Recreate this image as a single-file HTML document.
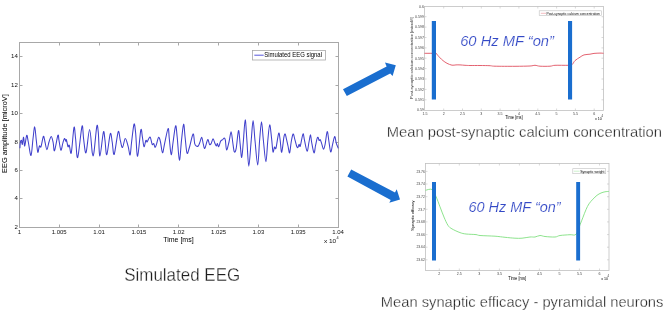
<!DOCTYPE html>
<html><head><meta charset="utf-8"><style>
html,body{margin:0;padding:0;background:#fff;overflow:hidden}
svg{display:block;filter:blur(0.3px)}
text{font-family:"Liberation Sans", sans-serif}
</style></head><body>
<svg width="669" height="315" viewBox="0 0 669 315">
<rect width="669" height="315" fill="#fff"/>
<rect x="19.5" y="42.5" width="319.0" height="185.0" fill="none" stroke="#a8a8a8" stroke-width="1"/>
<text x="17.8" y="228.8" font-size="6.1" text-anchor="end" fill="#111">2</text>
<line x1="19.5" y1="198.5" x2="22.5" y2="198.5" stroke="#a8a8a8"/>
<line x1="338.5" y1="198.5" x2="335.5" y2="198.5" stroke="#a8a8a8"/>
<text x="17.8" y="200.4" font-size="6.1" text-anchor="end" fill="#111">4</text>
<line x1="19.5" y1="170.5" x2="22.5" y2="170.5" stroke="#a8a8a8"/>
<line x1="338.5" y1="170.5" x2="335.5" y2="170.5" stroke="#a8a8a8"/>
<text x="17.8" y="172.0" font-size="6.1" text-anchor="end" fill="#111">6</text>
<line x1="19.5" y1="142.5" x2="22.5" y2="142.5" stroke="#a8a8a8"/>
<line x1="338.5" y1="142.5" x2="335.5" y2="142.5" stroke="#a8a8a8"/>
<text x="17.8" y="143.6" font-size="6.1" text-anchor="end" fill="#111">8</text>
<line x1="19.5" y1="113.5" x2="22.5" y2="113.5" stroke="#a8a8a8"/>
<line x1="338.5" y1="113.5" x2="335.5" y2="113.5" stroke="#a8a8a8"/>
<text x="17.8" y="115.2" font-size="6.1" text-anchor="end" fill="#111">10</text>
<line x1="19.5" y1="85.5" x2="22.5" y2="85.5" stroke="#a8a8a8"/>
<line x1="338.5" y1="85.5" x2="335.5" y2="85.5" stroke="#a8a8a8"/>
<text x="17.8" y="86.8" font-size="6.1" text-anchor="end" fill="#111">12</text>
<line x1="19.5" y1="56.5" x2="22.5" y2="56.5" stroke="#a8a8a8"/>
<line x1="338.5" y1="56.5" x2="335.5" y2="56.5" stroke="#a8a8a8"/>
<text x="17.8" y="58.4" font-size="6.1" text-anchor="end" fill="#111">14</text>
<text x="19.3" y="234.1" font-size="6" text-anchor="middle" fill="#111">1</text>
<line x1="59.5" y1="227.5" x2="59.5" y2="224.5" stroke="#a8a8a8"/>
<line x1="59.5" y1="42.5" x2="59.5" y2="45.5" stroke="#a8a8a8"/>
<text x="59.2" y="234.1" font-size="6" text-anchor="middle" fill="#111">1.005</text>
<line x1="99.5" y1="227.5" x2="99.5" y2="224.5" stroke="#a8a8a8"/>
<line x1="99.5" y1="42.5" x2="99.5" y2="45.5" stroke="#a8a8a8"/>
<text x="99.0" y="234.1" font-size="6" text-anchor="middle" fill="#111">1.01</text>
<line x1="138.5" y1="227.5" x2="138.5" y2="224.5" stroke="#a8a8a8"/>
<line x1="138.5" y1="42.5" x2="138.5" y2="45.5" stroke="#a8a8a8"/>
<text x="138.9" y="234.1" font-size="6" text-anchor="middle" fill="#111">1.015</text>
<line x1="178.5" y1="227.5" x2="178.5" y2="224.5" stroke="#a8a8a8"/>
<line x1="178.5" y1="42.5" x2="178.5" y2="45.5" stroke="#a8a8a8"/>
<text x="178.7" y="234.1" font-size="6" text-anchor="middle" fill="#111">1.02</text>
<line x1="218.5" y1="227.5" x2="218.5" y2="224.5" stroke="#a8a8a8"/>
<line x1="218.5" y1="42.5" x2="218.5" y2="45.5" stroke="#a8a8a8"/>
<text x="218.6" y="234.1" font-size="6" text-anchor="middle" fill="#111">1.025</text>
<line x1="258.5" y1="227.5" x2="258.5" y2="224.5" stroke="#a8a8a8"/>
<line x1="258.5" y1="42.5" x2="258.5" y2="45.5" stroke="#a8a8a8"/>
<text x="258.4" y="234.1" font-size="6" text-anchor="middle" fill="#111">1.03</text>
<line x1="298.5" y1="227.5" x2="298.5" y2="224.5" stroke="#a8a8a8"/>
<line x1="298.5" y1="42.5" x2="298.5" y2="45.5" stroke="#a8a8a8"/>
<text x="298.2" y="234.1" font-size="6" text-anchor="middle" fill="#111">1.035</text>
<text x="338.1" y="234.1" font-size="6" text-anchor="middle" fill="#111">1.04</text>
<text x="163.2" y="242.2" font-size="7" fill="#000" textLength="30.4" lengthAdjust="spacingAndGlyphs">Time [ms]</text>
<text x="323.9" y="242.9" font-size="5.4" fill="#111" textLength="12.3" lengthAdjust="spacingAndGlyphs">x 10</text><text x="336.5" y="238.8" font-size="3.8" fill="#111">4</text>
<text transform="translate(7.4,133.6) rotate(-90)" font-size="6.6" text-anchor="middle" fill="#000" textLength="78.6" lengthAdjust="spacingAndGlyphs">EEG amplitude [microV]</text>
<rect x="252.5" y="50.5" width="73" height="9.5" fill="#fff" stroke="#a8a8a8" stroke-width="0.8"/>
<line x1="254.3" y1="55.2" x2="263.7" y2="55.2" stroke="#4545d8" stroke-width="0.9"/>
<text x="264.2" y="57.2" font-size="6.3" fill="#000" textLength="57.8" lengthAdjust="spacingAndGlyphs">Simulated EEG signal</text>
<path d="M19.90,148.30 C19.98,147.25 20.13,143.32 20.40,142.00 C20.67,140.68 21.18,140.00 21.50,140.40 C21.82,140.80 21.95,144.93 22.30,144.40 C22.65,143.87 23.20,136.93 23.60,137.20 C24.00,137.47 24.18,146.32 24.70,146.00 C25.22,145.68 26.10,135.97 26.70,135.30 C27.30,134.63 27.58,138.63 28.30,142.00 C29.02,145.37 30.22,156.03 31.00,155.50 C31.78,154.97 32.38,143.57 33.00,138.80 C33.62,134.03 34.15,126.63 34.70,126.90 C35.25,127.17 35.78,136.17 36.30,140.40 C36.82,144.63 37.28,151.37 37.80,152.30 C38.32,153.23 38.87,146.93 39.40,146.00 C39.93,145.07 40.33,148.30 41.00,146.70 C41.67,145.10 42.73,137.18 43.40,136.40 C44.07,135.62 44.42,139.80 45.00,142.00 C45.58,144.20 46.23,149.60 46.90,149.60 C47.57,149.60 48.27,144.20 49.00,142.00 C49.73,139.80 50.60,136.27 51.30,136.40 C52.00,136.53 52.67,140.42 53.20,142.80 C53.73,145.18 53.72,151.95 54.50,150.70 C55.28,149.45 57.15,137.02 57.90,135.30 C58.65,133.58 58.50,137.92 59.00,140.40 C59.50,142.88 60.25,149.80 60.90,150.20 C61.55,150.60 62.30,144.75 62.90,142.80 C63.50,140.85 64.02,138.77 64.50,138.50 C64.98,138.23 65.48,141.02 65.80,141.20 C66.12,141.38 66.03,138.68 66.40,139.60 C66.77,140.52 67.52,145.77 68.00,146.70 C68.48,147.63 68.75,144.18 69.30,145.20 C69.85,146.22 70.52,155.77 71.30,152.80 C72.08,149.83 73.28,129.73 74.00,127.40 C74.72,125.07 74.98,133.78 75.60,138.80 C76.22,143.82 76.63,159.57 77.70,157.50 C78.77,155.43 81.02,129.52 82.00,126.40 C82.98,123.28 82.93,134.40 83.60,138.80 C84.27,143.20 85.00,154.33 86.00,152.80 C87.00,151.27 88.55,129.57 89.60,129.60 C90.65,129.63 91.58,149.13 92.30,153.00 C93.02,156.87 93.15,157.23 93.90,152.80 C94.65,148.37 96.07,129.78 96.80,126.40 C97.53,123.02 97.78,127.57 98.30,132.50 C98.82,137.43 99.05,156.07 99.90,156.00 C100.75,155.93 102.55,134.70 103.40,132.10 C104.25,129.50 104.43,136.63 105.00,140.40 C105.57,144.17 105.92,155.82 106.80,154.70 C107.68,153.58 109.40,135.82 110.30,133.70 C111.20,131.58 111.55,138.55 112.20,142.00 C112.85,145.45 113.20,156.12 114.20,154.40 C115.20,152.68 117.18,134.03 118.20,131.70 C119.22,129.37 119.58,137.77 120.30,140.40 C121.02,143.03 121.67,147.82 122.50,147.50 C123.33,147.18 124.35,138.63 125.30,138.50 C126.25,138.37 127.40,143.95 128.20,146.70 C129.00,149.45 129.53,155.78 130.10,155.00 C130.67,154.22 130.95,147.13 131.60,142.00 C132.25,136.87 133.33,125.78 134.00,124.20 C134.67,122.62 135.00,127.15 135.60,132.50 C136.20,137.85 136.73,156.70 137.60,156.30 C138.47,155.90 140.00,133.28 140.80,130.10 C141.60,126.92 141.87,134.43 142.40,137.20 C142.93,139.97 143.42,146.17 144.00,146.70 C144.58,147.23 145.38,141.18 145.90,140.40 C146.42,139.62 146.63,142.27 147.10,142.00 C147.57,141.73 148.17,139.60 148.70,138.80 C149.23,138.00 149.72,136.27 150.30,137.20 C150.88,138.13 151.62,143.33 152.20,144.40 C152.78,145.47 153.32,143.08 153.80,143.60 C154.28,144.12 154.62,147.50 155.10,147.50 C155.58,147.50 156.12,145.32 156.70,143.60 C157.28,141.88 157.97,137.47 158.60,137.20 C159.23,136.93 159.85,139.40 160.50,142.00 C161.15,144.60 161.82,152.53 162.50,152.80 C163.18,153.07 163.67,147.65 164.60,143.60 C165.53,139.55 167.32,129.30 168.10,128.50 C168.88,127.70 168.78,134.43 169.30,138.80 C169.82,143.17 170.57,154.17 171.20,154.70 C171.83,155.23 172.37,146.82 173.10,142.00 C173.83,137.18 174.92,126.60 175.60,125.80 C176.28,125.00 176.57,131.47 177.20,137.20 C177.83,142.93 178.68,159.67 179.40,160.20 C180.12,160.73 180.80,146.40 181.50,140.40 C182.20,134.40 183.00,124.73 183.60,124.20 C184.20,123.67 184.53,132.38 185.10,137.20 C185.67,142.02 186.28,151.38 187.00,153.10 C187.72,154.82 188.38,150.68 189.40,147.50 C190.42,144.32 192.22,134.65 193.10,134.00 C193.98,133.35 194.17,141.60 194.70,143.60 C195.23,145.60 195.72,145.60 196.30,146.00 C196.88,146.40 197.63,146.53 198.20,146.00 C198.77,145.47 199.12,144.27 199.70,142.80 C200.28,141.33 201.12,137.07 201.70,137.20 C202.28,137.33 202.68,141.75 203.20,143.60 C203.72,145.45 204.05,148.97 204.80,148.30 C205.55,147.63 206.92,140.25 207.70,139.60 C208.48,138.95 208.93,143.73 209.50,144.40 C210.07,145.07 210.50,144.53 211.10,143.60 C211.70,142.67 212.50,138.93 213.10,138.80 C213.70,138.67 214.17,141.60 214.70,142.80 C215.23,144.00 215.85,145.87 216.30,146.00 C216.75,146.13 217.00,143.48 217.40,143.60 C217.80,143.72 218.17,147.10 218.70,146.70 C219.23,146.30 219.93,142.38 220.60,141.20 C221.27,140.02 222.08,140.13 222.70,139.60 C223.32,139.07 223.85,137.87 224.30,138.00 C224.75,138.13 225.02,138.42 225.40,140.40 C225.78,142.38 226.00,149.63 226.60,149.90 C227.20,150.17 228.25,145.03 229.00,142.00 C229.75,138.97 230.48,131.70 231.10,131.70 C231.72,131.70 232.17,138.65 232.70,142.00 C233.23,145.35 233.72,150.75 234.30,151.80 C234.88,152.85 235.50,151.83 236.20,148.30 C236.90,144.77 237.85,131.38 238.50,130.60 C239.15,129.82 239.57,139.12 240.10,143.60 C240.63,148.08 241.17,157.77 241.70,157.50 C242.23,157.23 242.72,148.27 243.30,142.00 C243.88,135.73 244.60,120.15 245.20,119.90 C245.80,119.65 246.30,132.78 246.90,140.50 C247.50,148.22 248.08,166.20 248.80,166.20 C249.52,166.20 250.48,148.12 251.20,140.50 C251.92,132.88 252.47,120.50 253.10,120.50 C253.73,120.50 254.23,133.10 255.00,140.50 C255.77,147.90 256.93,164.90 257.70,164.90 C258.47,164.90 258.97,147.68 259.60,140.50 C260.23,133.32 260.87,121.80 261.50,121.80 C262.13,121.80 262.67,133.83 263.40,140.50 C264.13,147.17 265.17,161.80 265.90,161.80 C266.63,161.80 267.17,146.65 267.80,140.50 C268.43,134.35 269.07,125.22 269.70,124.90 C270.33,124.58 271.05,134.10 271.60,138.60 C272.15,143.10 272.52,150.48 273.00,151.90 C273.48,153.32 274.00,147.73 274.50,147.10 C275.00,146.47 275.30,150.42 276.00,148.10 C276.70,145.78 278.00,134.47 278.70,133.20 C279.40,131.93 279.70,137.32 280.20,140.50 C280.70,143.68 281.08,152.85 281.70,152.30 C282.32,151.75 283.32,140.25 283.90,137.20 C284.48,134.15 284.78,133.73 285.20,134.00 C285.62,134.27 285.93,136.80 286.40,138.80 C286.87,140.80 287.47,143.67 288.00,146.00 C288.53,148.33 289.07,153.47 289.60,152.80 C290.13,152.13 290.62,145.13 291.20,142.00 C291.78,138.87 292.52,134.53 293.10,134.00 C293.68,133.47 294.12,136.80 294.70,138.80 C295.28,140.80 296.07,144.55 296.60,146.00 C297.13,147.45 297.48,147.77 297.90,147.50 C298.32,147.23 298.70,144.65 299.10,144.40 C299.50,144.15 299.65,147.73 300.30,146.00 C300.95,144.27 302.30,134.93 303.00,134.00 C303.70,133.07 303.82,137.53 304.50,140.40 C305.18,143.27 306.35,150.93 307.10,151.20 C307.85,151.47 308.43,144.73 309.00,142.00 C309.57,139.27 310.07,134.80 310.50,134.80 C310.93,134.80 311.02,138.98 311.60,142.00 C312.18,145.02 313.33,152.37 314.00,152.90 C314.67,153.43 315.00,147.80 315.60,145.20 C316.20,142.60 317.00,138.08 317.60,137.30 C318.20,136.52 318.75,140.10 319.20,140.50 C319.65,140.90 319.85,139.05 320.30,139.70 C320.75,140.35 321.37,142.82 321.90,144.40 C322.43,145.98 322.97,149.20 323.50,149.20 C324.03,149.20 324.48,147.32 325.10,144.40 C325.72,141.48 326.58,132.35 327.20,131.70 C327.82,131.05 328.22,137.13 328.80,140.50 C329.38,143.87 330.07,151.25 330.70,151.90 C331.33,152.55 331.93,146.97 332.60,144.40 C333.27,141.83 334.10,136.77 334.70,136.50 C335.30,136.23 335.60,140.82 336.20,142.80 C336.80,144.78 337.95,147.47 338.30,148.40" fill="none" stroke="#4040cc" stroke-width="1.05" stroke-linejoin="round"/>
<rect x="424.5" y="6.5" width="179.0" height="104.0" fill="none" stroke="#c0c0c0" stroke-width="0.8"/>
<text x="423.9" y="7.5" font-size="3.6" text-anchor="end" fill="#444">0.6</text>
<line x1="424.5" y1="16.7" x2="426.5" y2="16.7" stroke="#c0c0c0" stroke-width="0.6"/>
<line x1="603.5" y1="16.7" x2="601.5" y2="16.7" stroke="#c0c0c0" stroke-width="0.6"/>
<text x="423.9" y="17.9" font-size="3.6" text-anchor="end" fill="#444">0.599</text>
<line x1="424.5" y1="27.1" x2="426.5" y2="27.1" stroke="#c0c0c0" stroke-width="0.6"/>
<line x1="603.5" y1="27.1" x2="601.5" y2="27.1" stroke="#c0c0c0" stroke-width="0.6"/>
<text x="423.9" y="28.3" font-size="3.6" text-anchor="end" fill="#444">0.598</text>
<line x1="424.5" y1="37.5" x2="426.5" y2="37.5" stroke="#c0c0c0" stroke-width="0.6"/>
<line x1="603.5" y1="37.5" x2="601.5" y2="37.5" stroke="#c0c0c0" stroke-width="0.6"/>
<text x="423.9" y="38.7" font-size="3.6" text-anchor="end" fill="#444">0.597</text>
<line x1="424.5" y1="47.9" x2="426.5" y2="47.9" stroke="#c0c0c0" stroke-width="0.6"/>
<line x1="603.5" y1="47.9" x2="601.5" y2="47.9" stroke="#c0c0c0" stroke-width="0.6"/>
<text x="423.9" y="49.1" font-size="3.6" text-anchor="end" fill="#444">0.596</text>
<line x1="424.5" y1="58.2" x2="426.5" y2="58.2" stroke="#c0c0c0" stroke-width="0.6"/>
<line x1="603.5" y1="58.2" x2="601.5" y2="58.2" stroke="#c0c0c0" stroke-width="0.6"/>
<text x="423.9" y="59.5" font-size="3.6" text-anchor="end" fill="#444">0.595</text>
<line x1="424.5" y1="68.6" x2="426.5" y2="68.6" stroke="#c0c0c0" stroke-width="0.6"/>
<line x1="603.5" y1="68.6" x2="601.5" y2="68.6" stroke="#c0c0c0" stroke-width="0.6"/>
<text x="423.9" y="69.8" font-size="3.6" text-anchor="end" fill="#444">0.594</text>
<line x1="424.5" y1="79.0" x2="426.5" y2="79.0" stroke="#c0c0c0" stroke-width="0.6"/>
<line x1="603.5" y1="79.0" x2="601.5" y2="79.0" stroke="#c0c0c0" stroke-width="0.6"/>
<text x="423.9" y="80.2" font-size="3.6" text-anchor="end" fill="#444">0.593</text>
<line x1="424.5" y1="89.4" x2="426.5" y2="89.4" stroke="#c0c0c0" stroke-width="0.6"/>
<line x1="603.5" y1="89.4" x2="601.5" y2="89.4" stroke="#c0c0c0" stroke-width="0.6"/>
<text x="423.9" y="90.6" font-size="3.6" text-anchor="end" fill="#444">0.592</text>
<line x1="424.5" y1="99.8" x2="426.5" y2="99.8" stroke="#c0c0c0" stroke-width="0.6"/>
<line x1="603.5" y1="99.8" x2="601.5" y2="99.8" stroke="#c0c0c0" stroke-width="0.6"/>
<text x="423.9" y="101.0" font-size="3.6" text-anchor="end" fill="#444">0.591</text>
<text x="423.9" y="111.4" font-size="3.6" text-anchor="end" fill="#444">0.59</text>
<text x="424.9" y="114.6" font-size="3.6" text-anchor="middle" fill="#444">1.5</text>
<line x1="443.7" y1="110.5" x2="443.7" y2="108.5" stroke="#c0c0c0" stroke-width="0.6"/>
<line x1="443.7" y1="6.5" x2="443.7" y2="8.5" stroke="#c0c0c0" stroke-width="0.6"/>
<text x="443.7" y="114.6" font-size="3.6" text-anchor="middle" fill="#444">2</text>
<line x1="462.5" y1="110.5" x2="462.5" y2="108.5" stroke="#c0c0c0" stroke-width="0.6"/>
<line x1="462.5" y1="6.5" x2="462.5" y2="8.5" stroke="#c0c0c0" stroke-width="0.6"/>
<text x="462.5" y="114.6" font-size="3.6" text-anchor="middle" fill="#444">2.5</text>
<line x1="481.3" y1="110.5" x2="481.3" y2="108.5" stroke="#c0c0c0" stroke-width="0.6"/>
<line x1="481.3" y1="6.5" x2="481.3" y2="8.5" stroke="#c0c0c0" stroke-width="0.6"/>
<text x="481.3" y="114.6" font-size="3.6" text-anchor="middle" fill="#444">3</text>
<line x1="500.1" y1="110.5" x2="500.1" y2="108.5" stroke="#c0c0c0" stroke-width="0.6"/>
<line x1="500.1" y1="6.5" x2="500.1" y2="8.5" stroke="#c0c0c0" stroke-width="0.6"/>
<text x="500.1" y="114.6" font-size="3.6" text-anchor="middle" fill="#444">3.5</text>
<line x1="518.9" y1="110.5" x2="518.9" y2="108.5" stroke="#c0c0c0" stroke-width="0.6"/>
<line x1="518.9" y1="6.5" x2="518.9" y2="8.5" stroke="#c0c0c0" stroke-width="0.6"/>
<text x="518.9" y="114.6" font-size="3.6" text-anchor="middle" fill="#444">4</text>
<line x1="537.8" y1="110.5" x2="537.8" y2="108.5" stroke="#c0c0c0" stroke-width="0.6"/>
<line x1="537.8" y1="6.5" x2="537.8" y2="8.5" stroke="#c0c0c0" stroke-width="0.6"/>
<text x="537.8" y="114.6" font-size="3.6" text-anchor="middle" fill="#444">4.5</text>
<line x1="556.6" y1="110.5" x2="556.6" y2="108.5" stroke="#c0c0c0" stroke-width="0.6"/>
<line x1="556.6" y1="6.5" x2="556.6" y2="8.5" stroke="#c0c0c0" stroke-width="0.6"/>
<text x="556.6" y="114.6" font-size="3.6" text-anchor="middle" fill="#444">5</text>
<line x1="575.4" y1="110.5" x2="575.4" y2="108.5" stroke="#c0c0c0" stroke-width="0.6"/>
<line x1="575.4" y1="6.5" x2="575.4" y2="8.5" stroke="#c0c0c0" stroke-width="0.6"/>
<text x="575.4" y="114.6" font-size="3.6" text-anchor="middle" fill="#444">5.5</text>
<line x1="594.2" y1="110.5" x2="594.2" y2="108.5" stroke="#c0c0c0" stroke-width="0.6"/>
<line x1="594.2" y1="6.5" x2="594.2" y2="8.5" stroke="#c0c0c0" stroke-width="0.6"/>
<text x="594.2" y="114.6" font-size="3.6" text-anchor="middle" fill="#444">6</text>
<text x="505.3" y="119.3" font-size="4.6" fill="#000" textLength="17.4" lengthAdjust="spacingAndGlyphs">Time [ms]</text>
<text x="595" y="119.8" font-size="3.6" fill="#000">x 10</text><text x="601.4" y="117" font-size="2.6" fill="#000">4</text>
<text transform="translate(413.3,58.1) rotate(-90)" font-size="3.8" text-anchor="middle" fill="#333" textLength="82" lengthAdjust="spacingAndGlyphs">Post-synaptic calcium concentration [microM]</text>
<rect x="539.2" y="10.8" width="62.2" height="4.8" fill="#fff" stroke="#c0c0c0" stroke-width="0.6"/>
<line x1="540.8" y1="13.3" x2="546" y2="13.3" stroke="#f0a0a8" stroke-width="0.7"/>
<text x="546.5" y="14.6" font-size="3.9" fill="#000" textLength="53.4" lengthAdjust="spacingAndGlyphs">Post-synaptic calcium concentration</text>
<path d="M424.50,53.30 C425.75,53.30 430.08,53.30 432.00,53.30 C433.92,53.30 435.00,52.92 436.00,53.30 C437.00,53.68 437.33,54.85 438.00,55.60 C438.67,56.35 439.17,56.97 440.00,57.80 C440.83,58.63 441.83,59.68 443.00,60.60 C444.17,61.52 445.50,62.53 447.00,63.30 C448.50,64.07 450.50,64.93 452.00,65.20 C453.50,65.47 454.67,64.95 456.00,64.90 C457.33,64.85 458.50,64.83 460.00,64.90 C461.50,64.97 463.33,65.20 465.00,65.30 C466.67,65.40 467.50,65.47 470.00,65.50 C472.50,65.53 476.67,65.47 480.00,65.50 C483.33,65.53 487.50,65.58 490.00,65.70 C492.50,65.82 490.83,66.10 495.00,66.20 C499.17,66.30 509.17,66.33 515.00,66.30 C520.83,66.27 526.67,66.17 530.00,66.00 C533.33,65.83 533.33,65.27 535.00,65.30 C536.67,65.33 537.50,66.05 540.00,66.20 C542.50,66.35 547.50,66.35 550.00,66.20 C552.50,66.05 552.00,65.45 555.00,65.30 C558.00,65.15 565.17,65.40 568.00,65.30 C570.83,65.20 570.83,65.48 572.00,64.70 C573.17,63.92 573.67,61.85 575.00,60.60 C576.33,59.35 578.50,58.15 580.00,57.20 C581.50,56.25 582.33,55.40 584.00,54.90 C585.67,54.40 588.33,54.45 590.00,54.20 C591.67,53.95 592.33,53.58 594.00,53.40 C595.67,53.22 598.42,53.12 600.00,53.10 C601.58,53.08 602.92,53.27 603.50,53.30" fill="none" stroke="#e05060" stroke-width="0.9"/>
<rect x="431.8" y="21" width="4.2" height="78.5" fill="#1a6ecf"/>
<rect x="568" y="21" width="4.1" height="78.5" fill="#1a6ecf"/>
<text x="460.2" y="46.3" font-size="14.5" font-style="italic" fill="#3349c6" stroke="#fff" stroke-width="0.15" textLength="93.7" lengthAdjust="spacingAndGlyphs">60 Hz MF “on”</text>
<rect x="425.5" y="163.5" width="183.5" height="107.0" fill="none" stroke="#c0c0c0" stroke-width="0.8"/>
<line x1="425.5" y1="171.4" x2="427.5" y2="171.4" stroke="#c0c0c0" stroke-width="0.6"/>
<line x1="609" y1="171.4" x2="607" y2="171.4" stroke="#c0c0c0" stroke-width="0.6"/>
<text x="424.9" y="172.6" font-size="3.4" text-anchor="end" fill="#444">23.76</text>
<line x1="425.5" y1="184.0" x2="427.5" y2="184.0" stroke="#c0c0c0" stroke-width="0.6"/>
<line x1="609" y1="184.0" x2="607" y2="184.0" stroke="#c0c0c0" stroke-width="0.6"/>
<text x="424.9" y="185.2" font-size="3.4" text-anchor="end" fill="#444">23.74</text>
<line x1="425.5" y1="196.7" x2="427.5" y2="196.7" stroke="#c0c0c0" stroke-width="0.6"/>
<line x1="609" y1="196.7" x2="607" y2="196.7" stroke="#c0c0c0" stroke-width="0.6"/>
<text x="424.9" y="197.9" font-size="3.4" text-anchor="end" fill="#444">23.72</text>
<line x1="425.5" y1="209.3" x2="427.5" y2="209.3" stroke="#c0c0c0" stroke-width="0.6"/>
<line x1="609" y1="209.3" x2="607" y2="209.3" stroke="#c0c0c0" stroke-width="0.6"/>
<text x="424.9" y="210.5" font-size="3.4" text-anchor="end" fill="#444">23.7</text>
<line x1="425.5" y1="221.9" x2="427.5" y2="221.9" stroke="#c0c0c0" stroke-width="0.6"/>
<line x1="609" y1="221.9" x2="607" y2="221.9" stroke="#c0c0c0" stroke-width="0.6"/>
<text x="424.9" y="223.1" font-size="3.4" text-anchor="end" fill="#444">23.68</text>
<line x1="425.5" y1="234.6" x2="427.5" y2="234.6" stroke="#c0c0c0" stroke-width="0.6"/>
<line x1="609" y1="234.6" x2="607" y2="234.6" stroke="#c0c0c0" stroke-width="0.6"/>
<text x="424.9" y="235.8" font-size="3.4" text-anchor="end" fill="#444">23.66</text>
<line x1="425.5" y1="247.2" x2="427.5" y2="247.2" stroke="#c0c0c0" stroke-width="0.6"/>
<line x1="609" y1="247.2" x2="607" y2="247.2" stroke="#c0c0c0" stroke-width="0.6"/>
<text x="424.9" y="248.4" font-size="3.4" text-anchor="end" fill="#444">23.64</text>
<line x1="425.5" y1="259.8" x2="427.5" y2="259.8" stroke="#c0c0c0" stroke-width="0.6"/>
<line x1="609" y1="259.8" x2="607" y2="259.8" stroke="#c0c0c0" stroke-width="0.6"/>
<text x="424.9" y="261.0" font-size="3.4" text-anchor="end" fill="#444">23.62</text>
<line x1="439.3" y1="270.5" x2="439.3" y2="268.5" stroke="#c0c0c0" stroke-width="0.6"/>
<line x1="439.3" y1="163.5" x2="439.3" y2="165.5" stroke="#c0c0c0" stroke-width="0.6"/>
<text x="439.3" y="274.7" font-size="3.6" text-anchor="middle" fill="#444">2</text>
<line x1="459.3" y1="270.5" x2="459.3" y2="268.5" stroke="#c0c0c0" stroke-width="0.6"/>
<line x1="459.3" y1="163.5" x2="459.3" y2="165.5" stroke="#c0c0c0" stroke-width="0.6"/>
<text x="459.3" y="274.7" font-size="3.6" text-anchor="middle" fill="#444">2.5</text>
<line x1="479.3" y1="270.5" x2="479.3" y2="268.5" stroke="#c0c0c0" stroke-width="0.6"/>
<line x1="479.3" y1="163.5" x2="479.3" y2="165.5" stroke="#c0c0c0" stroke-width="0.6"/>
<text x="479.3" y="274.7" font-size="3.6" text-anchor="middle" fill="#444">3</text>
<line x1="499.4" y1="270.5" x2="499.4" y2="268.5" stroke="#c0c0c0" stroke-width="0.6"/>
<line x1="499.4" y1="163.5" x2="499.4" y2="165.5" stroke="#c0c0c0" stroke-width="0.6"/>
<text x="499.4" y="274.7" font-size="3.6" text-anchor="middle" fill="#444">3.5</text>
<line x1="519.4" y1="270.5" x2="519.4" y2="268.5" stroke="#c0c0c0" stroke-width="0.6"/>
<line x1="519.4" y1="163.5" x2="519.4" y2="165.5" stroke="#c0c0c0" stroke-width="0.6"/>
<text x="519.4" y="274.7" font-size="3.6" text-anchor="middle" fill="#444">4</text>
<line x1="539.4" y1="270.5" x2="539.4" y2="268.5" stroke="#c0c0c0" stroke-width="0.6"/>
<line x1="539.4" y1="163.5" x2="539.4" y2="165.5" stroke="#c0c0c0" stroke-width="0.6"/>
<text x="539.4" y="274.7" font-size="3.6" text-anchor="middle" fill="#444">4.5</text>
<line x1="559.4" y1="270.5" x2="559.4" y2="268.5" stroke="#c0c0c0" stroke-width="0.6"/>
<line x1="559.4" y1="163.5" x2="559.4" y2="165.5" stroke="#c0c0c0" stroke-width="0.6"/>
<text x="559.4" y="274.7" font-size="3.6" text-anchor="middle" fill="#444">5</text>
<line x1="579.4" y1="270.5" x2="579.4" y2="268.5" stroke="#c0c0c0" stroke-width="0.6"/>
<line x1="579.4" y1="163.5" x2="579.4" y2="165.5" stroke="#c0c0c0" stroke-width="0.6"/>
<text x="579.4" y="274.7" font-size="3.6" text-anchor="middle" fill="#444">5.5</text>
<line x1="599.5" y1="270.5" x2="599.5" y2="268.5" stroke="#c0c0c0" stroke-width="0.6"/>
<line x1="599.5" y1="163.5" x2="599.5" y2="165.5" stroke="#c0c0c0" stroke-width="0.6"/>
<text x="599.5" y="274.7" font-size="3.6" text-anchor="middle" fill="#444">6</text>
<text x="508.3" y="279.6" font-size="4.6" fill="#000" textLength="17.9" lengthAdjust="spacingAndGlyphs">Time [ms]</text>
<text x="601.3" y="279.7" font-size="3.6" fill="#000">x 10</text><text x="607.6" y="276.9" font-size="2.6" fill="#000">4</text>
<text transform="translate(414,215.6) rotate(-90)" font-size="4.4" text-anchor="middle" fill="#000" textLength="30.4" lengthAdjust="spacingAndGlyphs">Synaptic efficacy</text>
<rect x="572.8" y="168.7" width="32.9" height="5" fill="#fff" stroke="#c0c0c0" stroke-width="0.6"/>
<line x1="573.8" y1="171.2" x2="579.6" y2="171.2" stroke="#b8ecb8" stroke-width="0.7"/>
<text x="580.2" y="172.6" font-size="3.9" fill="#000" textLength="24.3" lengthAdjust="spacingAndGlyphs">Synaptic weight</text>
<path d="M425.50,190.30 C426.58,190.17 430.25,188.47 432.00,189.50 C433.75,190.53 434.67,193.62 436.00,196.50 C437.33,199.38 438.67,203.37 440.00,206.80 C441.33,210.23 442.67,214.00 444.00,217.10 C445.33,220.20 446.67,223.43 448.00,225.40 C449.33,227.37 450.00,227.70 452.00,228.90 C454.00,230.10 457.67,231.75 460.00,232.60 C462.33,233.45 463.33,233.67 466.00,234.00 C468.67,234.33 473.67,234.35 476.00,234.60 C478.33,234.85 476.83,235.23 480.00,235.50 C483.17,235.77 490.83,235.90 495.00,236.20 C499.17,236.50 501.67,236.97 505.00,237.30 C508.33,237.63 512.17,238.05 515.00,238.20 C517.83,238.35 519.50,238.40 522.00,238.20 C524.50,238.00 527.83,237.20 530.00,237.00 C532.17,236.80 533.33,237.25 535.00,237.00 C536.67,236.75 538.33,235.58 540.00,235.50 C541.67,235.42 542.50,236.25 545.00,236.50 C547.50,236.75 552.50,237.17 555.00,237.00 C557.50,236.83 557.50,235.88 560.00,235.50 C562.50,235.12 567.33,234.90 570.00,234.70 C572.67,234.50 574.33,235.95 576.00,234.30 C577.67,232.65 578.83,227.65 580.00,224.80 C581.17,221.95 582.00,219.73 583.00,217.20 C584.00,214.67 585.00,211.83 586.00,209.60 C587.00,207.37 587.83,205.55 589.00,203.80 C590.17,202.05 591.67,200.52 593.00,199.10 C594.33,197.68 595.67,196.32 597.00,195.30 C598.33,194.28 599.67,193.58 601.00,193.00 C602.33,192.42 603.67,192.07 605.00,191.80 C606.33,191.53 608.33,191.47 609.00,191.40" fill="none" stroke="#80e080" stroke-width="0.9"/>
<rect x="432" y="182" width="4" height="78.5" fill="#1a6ecf"/>
<rect x="576.2" y="182" width="3.9" height="78.5" fill="#1a6ecf"/>
<text x="468.5" y="211.7" font-size="14.5" font-style="italic" fill="#3349c6" stroke="#fff" stroke-width="0.15" textLength="92.1" lengthAdjust="spacingAndGlyphs">60 Hz MF “on”</text>
<polygon points="343,89.3 386.6,66.4 385,62.6 395.8,65.3 392.6,76.1 390.2,73.6 346.8,96" fill="#1a6ecf"/>
<polygon points="351.2,169.5 395,192.4 396.7,189.3 400,199.5 389.3,202.7 390.7,200 347.4,176.4" fill="#1a6ecf"/>
<text x="124.2" y="280.5" stroke="#fff" stroke-width="0.3" font-size="17.8" fill="#1e1e1e" textLength="116" lengthAdjust="spacingAndGlyphs">Simulated EEG</text>
<text x="386.7" y="137.4" stroke="#fff" stroke-width="0.3" font-size="14.5" fill="#1e1e1e" textLength="275.3" lengthAdjust="spacingAndGlyphs">Mean post-synaptic calcium concentration</text>
<text x="380.8" y="306.6" stroke="#fff" stroke-width="0.3" font-size="14.7" fill="#1e1e1e" textLength="282.6" lengthAdjust="spacingAndGlyphs">Mean synaptic efficacy - pyramidal neurons</text>
</svg>
</body></html>
